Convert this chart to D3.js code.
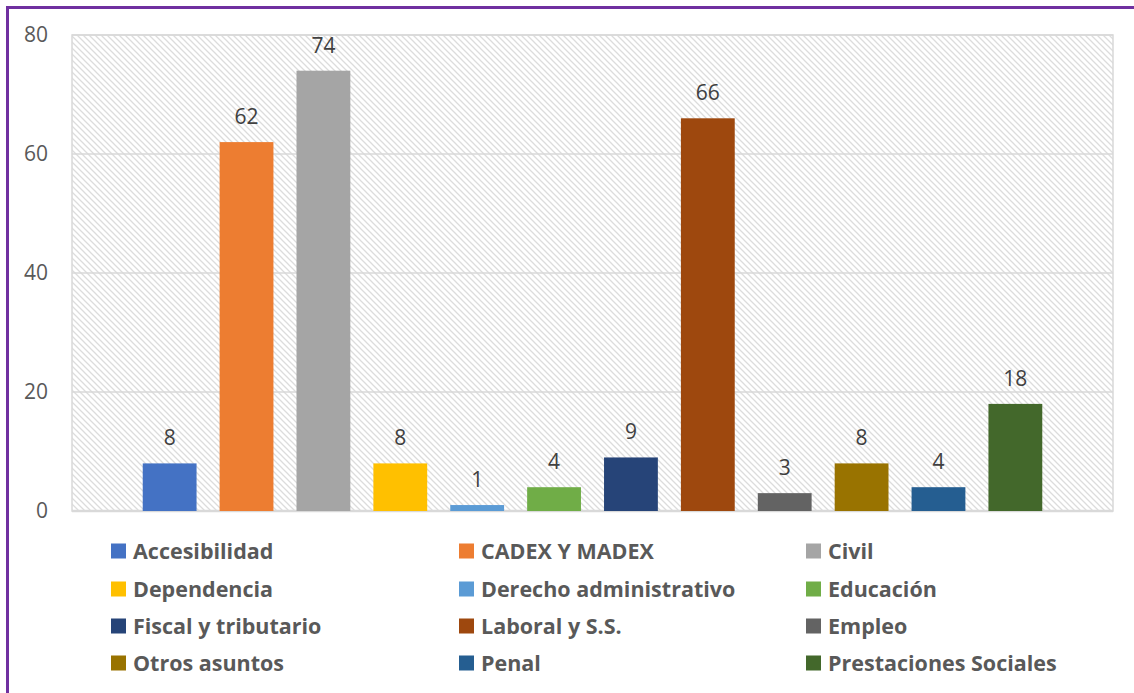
<!DOCTYPE html>
<html>
<head>
<meta charset="utf-8">
<script src="https://cdn.jsdelivr.net/npm/d3@7"></script>
<style>
  body { margin: 0; background: #fff; }
  text { font-family: "Open Sans", sans-serif; }
</style>
</head>
<body>
<div class="chart"></div>
<script>
'use strict';

// data
const categories = [
  "Accesibilidad", "CADEX Y MADEX", "Civil",
  "Dependencia", "Derecho administrativo", "Educación",
  "Fiscal y tributario", "Laboral y S.S.", "Empleo",
  "Otros asuntos", "Penal", "Prestaciones Sociales"
];
const values = [8, 62, 74, 8, 1, 4, 9, 66, 3, 8, 4, 18];
const colors = [
  "#4472c4", "#ed7d31", "#a5a5a5", "#ffc000", "#5b9bd5", "#70ad47",
  "#264478", "#9e480e", "#636363", "#997300", "#255e91", "#43682b"
];
const yTicks = [0, 20, 40, 60, 80];

// canvas
const width = 1134, height = 693;
const plot = {left: 72, right: 1113, top: 35, bottom: 511};

const svg = d3.select(".chart")
  .append("svg")
  .attr("width", width)
  .attr("height", height);

// hatch pattern for plot background
const defs = svg.append("defs");
const pat = defs.append("pattern")
  .attr("id", "hatch")
  .attr("patternUnits", "userSpaceOnUse")
  .attr("width", 6)
  .attr("height", 6);
pat.append("path")
  .attr("d", "M-1,-1 L7,7 M-1,5 L1,7 M5,-1 L7,1")
  .attr("stroke", "#dcdcdc")
  .attr("stroke-width", 1.3);

// purple frame
svg.append("path")
  .attr("d", `M7.5,${height} L7.5,7.5 L${width},7.5`)
  .attr("fill", "none")
  .attr("stroke", "#7030a0")
  .attr("stroke-width", 3);

// scales
const x = d3.scaleBand()
  .domain(categories)
  .range([plot.left, plot.right])
  .paddingInner(0.3)
  .paddingOuter(0.92);
const y = d3.scaleLinear()
  .domain([0, 80])
  .range([plot.bottom, plot.top]);

// plot background
svg.append("rect")
  .attr("x", plot.left)
  .attr("y", plot.top)
  .attr("width", plot.right - plot.left)
  .attr("height", plot.bottom - plot.top)
  .attr("fill", "url(#hatch)")
  .attr("stroke", "#d9d9d9")
  .attr("stroke-width", 1.5);

// gridlines
svg.append("g")
  .selectAll("line")
  .data(yTicks)
  .enter()
  .append("line")
  .attr("x1", plot.left)
  .attr("x2", plot.right)
  .attr("y1", d => y(d))
  .attr("y2", d => y(d))
  .attr("stroke", "#d9d9d9")
  .attr("stroke-width", d => d === 0 ? 2.5 : 1.5);

// y axis
const yAxis = d3.axisLeft(y).tickValues(yTicks).tickSize(0).tickPadding(24);
const yg = svg.append("g")
  .attr("transform", `translate(${plot.left}, 0)`)
  .call(yAxis);
yg.select(".domain").remove();
yg.selectAll("text")
  .attr("fill", "#595959")
  .style("font-family", "'Open Sans', sans-serif")
  .style("font-size", "21px");

// bars
svg.append("g")
  .selectAll("rect")
  .data(values)
  .enter()
  .append("rect")
  .attr("x", (d, i) => x(categories[i]))
  .attr("y", d => y(d))
  .attr("width", x.bandwidth())
  .attr("height", d => y(0) - y(d))
  .attr("fill", (d, i) => colors[i]);

// data labels
svg.append("g")
  .selectAll("text")
  .data(values)
  .enter()
  .append("text")
  .attr("x", (d, i) => x(categories[i]) + x.bandwidth() / 2)
  .attr("y", d => y(d) - 18)
  .attr("text-anchor", "middle")
  .attr("fill", "#404040")
  .style("font-size", "21px")
  .text(d => d);

// legend
const legendCols = [111, 459, 806];
const legendRows = [551, 589, 626, 663];
const legend = svg.append("g")
  .selectAll("g")
  .data(categories)
  .enter()
  .append("g")
  .attr("transform", (d, i) => `translate(${legendCols[i % 3]}, ${legendRows[Math.floor(i / 3)]})`);
legend.append("rect")
  .attr("x", 0)
  .attr("y", -7.5)
  .attr("width", 15)
  .attr("height", 15)
  .attr("fill", (d, i) => colors[i]);
legend.append("text")
  .attr("x", 22)
  .attr("y", 0)
  .attr("dy", "0.36em")
  .attr("fill", "#595959")
  .style("font-size", "21.5px")
  .style("font-weight", "bold")
  .text(d => d);
</script>
</body>
</html>
